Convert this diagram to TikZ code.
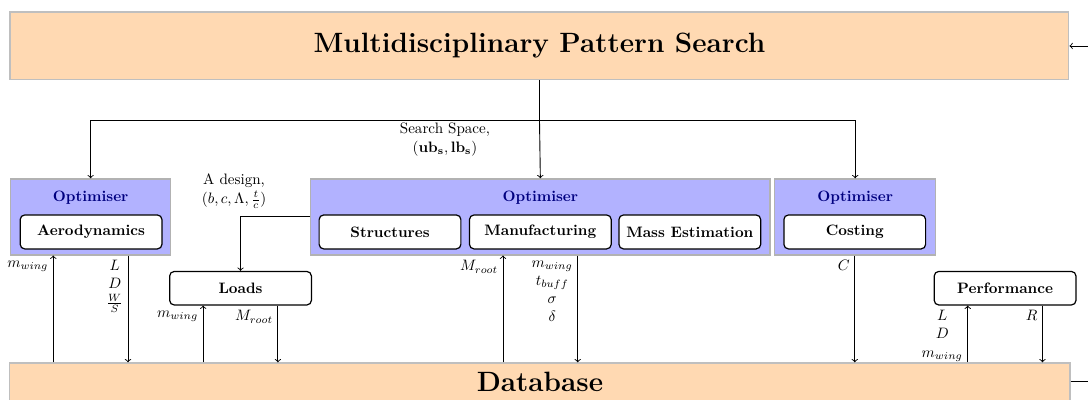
\documentclass[tikz,border=0pt]{standalone}
\usepackage{amsmath}
\usepackage{tikz}
\usetikzlibrary{calc,positioning,arrows,fit,shapes,backgrounds}

\begin{document}
\begin{tikzpicture}[>=to, lbl/.style={inner sep=3pt, align=center}, flow/.style={semithick,->}]
\tikzstyle{bigbox}=[draw=black!25, thick, fill=orange!30, font=\fontsize{18.5}{22}\selectfont\bfseries]
\tikzstyle{optbox}=[draw=black!30, thick, fill=blue!30, minimum height=1.77cm]
\tikzstyle{disc}=[draw, thick, rounded corners=3pt, fill=white, font=\bfseries, minimum width=3.3cm, minimum height=0.79cm, inner sep=1pt]
\tikzstyle{opt}=[font=\bfseries, text=blue!50!black]
\useasboundingbox (0,0) rectangle (25.33,9.29);

\node[bigbox, minimum width=24.65cm, minimum height=1.58cm] (mps) at (12.56,8.22) {Multidisciplinary Pattern Search};
\node[bigbox, minimum width=24.68cm, minimum height=0.88cm] (db) at (12.57,0.40) {Database};

% optimisers
\node[optbox, minimum width=3.72cm] (aeroopt) at (2.11,4.24) {};
\node[optbox, minimum width=10.69cm] (midopt) at (12.58,4.24) {};
\node[optbox, minimum width=3.74cm] (costopt) at (19.91,4.24) {};
\foreach \o in {aeroopt,midopt,costopt}{\node[opt, below=0.17cm of \o.north] (\o-lbl) {Optimiser};}

% disciplines
\node[disc] (aero) at (2.12,3.89) {Aerodynamics};
\node[disc] (struct) at (9.08,3.89) {Structures};
\node[disc] (manu) at (12.58,3.89) {Manufacturing};
\node[disc] (mass) at (16.06,3.89) {Mass Estimation};
\node[disc] (cost) at (19.90,3.89) {Costing};
\node[disc, minimum height=0.78cm] (loads) at (5.60,2.58) {Loads};
\node[disc, minimum height=0.78cm] (perf) at (23.40,2.58) {Performance};

% search space
\draw[semithick] (mps.south) -- ++(0,-0.92) coordinate (split);
\draw[flow] (split) -| (aeroopt.north);
\draw[flow] (split) -- (midopt.north);
\draw[flow] (split) -| (costopt.north);
\node[lbl, inner sep=2pt, below] (ss) at ([xshift=-2.2cm]split) {Search Space,\\ $(\mathbf{ub}_{\mathbf{s}},\mathbf{lb}_{\mathbf{s}})$};

% design to loads
\draw[flow] (midopt.west) -| node[lbl, pos=0.5, above, xshift=-0.15cm, yshift=2pt] (dsg) {A design,\\[1pt] $(b,c,\Lambda,\frac{t}{c})$} (loads.north);

% database exchanges
\draw[flow] ([xshift=-0.87cm]db.north -| aeroopt.south) -- ([xshift=-0.87cm]aeroopt.south) node[lbl, below left] (l1) {$m_{wing}$};
\draw[flow] ([xshift=0.87cm]aeroopt.south) node[lbl, below left] (l2) {$L$\\ $D$\\ $\frac{W}{S}$} -- ([xshift=0.87cm]db.north -| aeroopt.south);
\draw[flow] ([xshift=-0.87cm]db.north -| loads.south) -- ([xshift=-0.87cm]loads.south) node[lbl, below left] (l3) {$m_{wing}$};
\draw[flow] ([xshift=0.87cm]loads.south) node[lbl, below left] (l4) {$M_{root}$} -- ([xshift=0.87cm]db.north -| loads.south);
\draw[flow] ([xshift=-0.87cm]db.north -| manu.south) -- ([xshift=-0.87cm]midopt.south -| manu.south) node[lbl, below left] (l5) {$M_{root}$};
\draw[flow] ([xshift=0.87cm]midopt.south -| manu.south) node[lbl, below left] (l6) {$m_{wing}$\\ $t_{buff}$\\ $\sigma$\\ $\delta$} -- ([xshift=0.87cm]db.north -| manu.south);
\draw[flow] (costopt.south -| cost.south) node[lbl, below left] (l7) {$C$} -- (db.north -| cost.south);
\draw[flow] ([xshift=-0.87cm]db.north -| perf.south) -- ([xshift=-0.87cm]perf.south) node[lbl, below left] (l8) {$L$\\ $D$\\ $m_{wing}$};
\draw[flow] ([xshift=0.87cm]perf.south) node[lbl, below left] (l9) {$R$} -- ([xshift=0.87cm]db.north -| perf.south);

% loop back
\draw[flow] (db.east) -- ++(0.6,0) |- (mps.east);
\end{tikzpicture}
\end{document}
